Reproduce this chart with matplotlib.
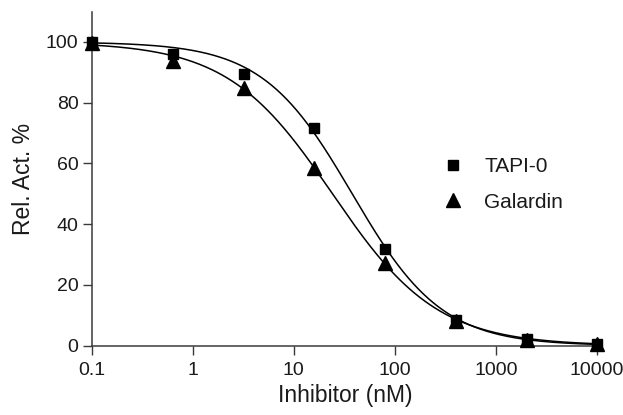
import numpy as np
import matplotlib
matplotlib.use("Agg")
import matplotlib.pyplot as plt

plt.rcParams['font.family'] = ['Liberation Sans', 'DejaVu Sans']

# inhibitor concentration (nM), 5-fold dilution series
conc = [0.1, 0.64, 3.2, 16, 80, 400, 2000, 10000]
tapi0 = [100.0, 96.2, 89.6, 71.8, 31.9, 8.4, 2.1, 0.7]
galardin = [99.6, 93.6, 85.0, 58.4, 27.2, 8.0, 2.0, 0.5]

x_ticks = [0.1, 1, 10, 100, 1000, 10000]
x_ticklabels = ["0.1", "1", "10", "100", "1000", "10000"]
y_ticks = [0, 20, 40, 60, 80, 100]


def logistic(x, ic50, hill):
    return 100.0 / (1.0 + (x / ic50) ** hill)


def fit_logistic(x, y):
    # crude least squares on a grid (top=100, bottom=0)
    x = np.asarray(x)[:, None, None]
    y = np.asarray(y)[:, None, None]
    ic = 10 ** np.linspace(0, 3, 600)[None, :, None]
    h = np.linspace(0.4, 2.0, 400)[None, None, :]
    err = ((logistic(x, ic, h) - y) ** 2).sum(axis=0)
    i, j = np.unravel_index(np.argmin(err), err.shape)
    return ic[0, i, 0], h[0, 0, j]


fig = plt.figure(figsize=(6.23, 4.15), dpi=100)
ax = fig.add_axes([0.147, 0.167, 0.815, 0.805])

xs = 10 ** np.linspace(-1, 4, 400)
for data in (tapi0, galardin):
    ic, h = fit_logistic(conc, data)
    ax.plot(xs, logistic(xs, ic, h), color="black", lw=1.1, zorder=2)

ax.plot(conc, tapi0, "s", color="black", ms=7.2, label="TAPI-0",
        clip_on=False, zorder=3)
ax.plot(conc, galardin, "^", color="black", ms=9.5, label="Galardin",
        clip_on=False, zorder=3)

ax.set_xscale("log")
ax.set_xlim(0.1, 10500)
ax.set_ylim(0, 110)
ax.set_xticks(x_ticks)
ax.set_xticklabels(x_ticklabels)
ax.minorticks_off()
ax.set_yticks(y_ticks)

for side in ("top", "right"):
    ax.spines[side].set_visible(False)
for side in ("left", "bottom"):
    ax.spines[side].set_color("#3a3a3a")
    ax.spines[side].set_linewidth(1.1)

ax.tick_params(axis="both", direction="out", length=6.5, width=1.0,
               color="#3a3a3a", labelsize=14, labelcolor="#1a1a1a")
ax.tick_params(axis="x", pad=5.5)
ax.tick_params(axis="y", pad=3)

ax.set_xlabel("Inhibitor (nM)", fontsize=16.5, color="#1a1a1a", labelpad=3)
ax.set_ylabel("Rel. Act. %", fontsize=16.5, color="#1a1a1a", labelpad=8)

ax.legend(loc="upper left", bbox_to_anchor=(0.675, 0.59), frameon=False,
          fontsize=15, handlelength=1.0, handletextpad=1.0,
          labelspacing=0.8, borderaxespad=0, labelcolor="#1a1a1a")

fig.savefig("out.png", dpi=100)
